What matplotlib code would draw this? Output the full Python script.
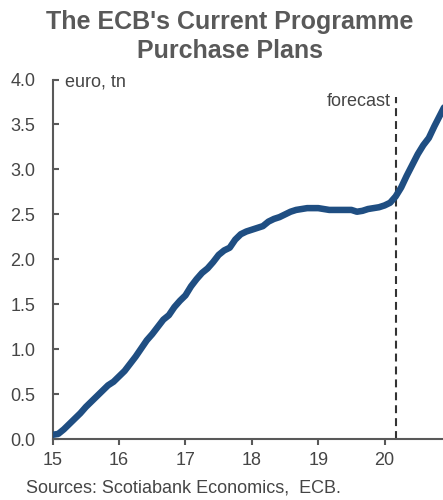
import numpy as np
import matplotlib.pyplot as plt

plt.rcParams['font.family'] = ['Liberation Sans', 'DejaVu Sans']

# monthly holdings, euro tn, Jan 2015 .. Dec 2020 (x = year + month/12)
years = [15, 16, 17, 18, 19, 20]
vals_2015 = [0.05, 0.06, 0.11, 0.17, 0.23, 0.29, 0.36, 0.42, 0.48, 0.54, 0.60, 0.64]
vals_2016 = [0.70, 0.76, 0.84, 0.92, 1.01, 1.10, 1.17, 1.25, 1.33, 1.38, 1.47, 1.54]
vals_2017 = [1.60, 1.70, 1.78, 1.85, 1.90, 1.97, 2.05, 2.10, 2.13, 2.22, 2.28, 2.31]
vals_2018 = [2.33, 2.35, 2.37, 2.42, 2.45, 2.47, 2.50, 2.53, 2.55, 2.56, 2.57, 2.57]
vals_2019 = [2.57, 2.56, 2.55, 2.55, 2.55, 2.55, 2.55, 2.53, 2.54, 2.56, 2.57, 2.58]
vals_2020 = [2.60, 2.63, 2.70, 2.80, 2.93, 3.05, 3.17, 3.27, 3.35, 3.48, 3.60, 3.72]
forecast_x = 20.17

xticks = [15, 16, 17, 18, 19, 20]
yticks = [0.0, 0.5, 1.0, 1.5, 2.0, 2.5, 3.0, 3.5, 4.0]

series = [vals_2015, vals_2016, vals_2017, vals_2018, vals_2019, vals_2020]
x = np.concatenate([y + np.arange(12) / 12.0 for y in years])
v = np.concatenate(series)

gray = '#595959'
txt = '#454545'
blue = '#1f4e82'

fig = plt.figure(figsize=(4.43, 5.0), dpi=100)
ax = fig.add_axes([0.119, 0.1214, 0.881, 0.7196])

ax.plot(x, v, color=blue, lw=4.7, solid_capstyle='round', solid_joinstyle='round', zorder=3)
ax.axvline(forecast_x, ymax=3.81 / 4.0, color='#333333', lw=1.5, dashes=(3.8, 2.4), zorder=2)
ax.text(forecast_x - 0.07, 3.76, 'forecast', ha='right', va='center', fontsize=13, color=txt)
ax.text(15.185, 3.97, 'euro, tn', ha='left', va='center', fontsize=13, color=txt)

ax.set_xlim(15, 20.88)
ax.set_ylim(0, 4.0)
ax.set_xticks(xticks)
ax.set_xticklabels([str(t) for t in xticks])
ax.set_yticks(yticks)
ax.set_yticklabels(['%.1f' % t for t in yticks])

for s in ['top', 'right']:
    ax.spines[s].set_visible(False)
for s in ['left', 'bottom']:
    ax.spines[s].set_color(gray)
    ax.spines[s].set_linewidth(1.5)

ax.tick_params(axis='x', direction='out', length=4, width=1.5, color=gray,
               labelsize=13, labelcolor=txt, pad=5.5)
ax.tick_params(axis='y', direction='in', length=4, width=1.5, color=gray,
               labelsize=13, labelcolor=txt, pad=12.5)
ax.patch.set_alpha(0)

fig.text(0.519, 1 - 29 / 500, "The ECB's Current Programme", ha='center', va='baseline',
         fontsize=18, fontweight='bold', color=gray)
fig.text(0.519, 1 - 58 / 500, "Purchase Plans", ha='center', va='baseline',
         fontsize=18, fontweight='bold', color=gray)
fig.text(0.059, 0.024, 'Sources: Scotiabank Economics,  ECB.', ha='left', va='center',
         fontsize=13, color=txt)

fig.savefig('out.png', dpi=100)
